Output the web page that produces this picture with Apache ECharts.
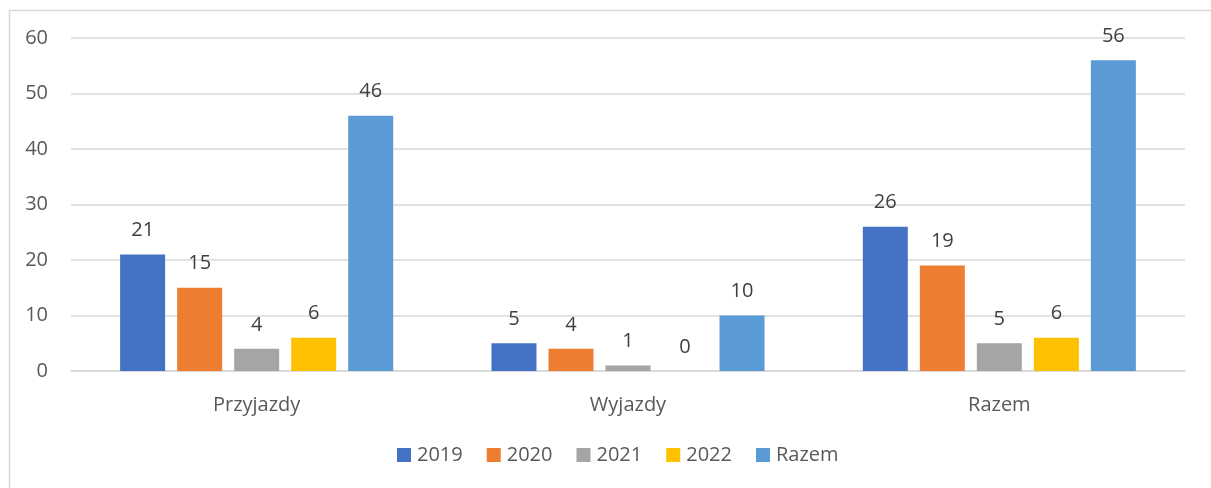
<!DOCTYPE html>
<html><head><meta charset="utf-8">
<script src="https://cdn.jsdelivr.net/npm/echarts@6/dist/echarts.min.js"></script>
<style>html,body{margin:0;padding:0;background:#fff}#c{width:1211px;height:488px}</style>
</head><body><div id="c"></div>
<script>
const categories = ['Przyjazdy', 'Wyjazdy', 'Razem'];
const seriesNames = ['2019', '2020', '2021', '2022', 'Razem'];
const v2019 = [21, 5, 26];
const v2020 = [15, 4, 19];
const v2021 = [4, 1, 5];
const v2022 = [6, 0, 6];
const vRazem = [46, 10, 56];
const yTicks = [0, 10, 20, 30, 40, 50, 60];

const colors = ['#4472C4', '#ED7D31', '#A5A5A5', '#FFC000', '#5B9BD5'];
const allValues = [v2019, v2020, v2021, v2022, vRazem];
const font = 'Open Sans';

const chart = echarts.init(document.getElementById('c'));
chart.setOption({
  animation: false,
  color: colors,
  textStyle: { fontFamily: font },
  graphic: [{
    type: 'rect', left: 7, top: 8, shape: { width: 1220, height: 500 },
    style: { fill: 'none', stroke: '#d9d9d9', lineWidth: 1.5 }, z: -1
  }],
  grid: { left: 71, right: 26, top: 38, bottom: 117, containLabel: false },
  legend: {
    bottom: 18, left: 392, itemWidth: 14, itemHeight: 14, itemGap: 24,
    icon: 'rect',
    textStyle: { fontSize: 20, color: '#595959', fontFamily: font, padding: [0, 0, 0, 1] },
    data: seriesNames
  },
  xAxis: {
    type: 'category', data: categories,
    axisLine: { lineStyle: { color: '#d9d9d9', width: 1.5 } },
    axisTick: { show: false },
    axisLabel: { fontSize: 20, color: '#595959', margin: 24, fontFamily: font }
  },
  yAxis: {
    type: 'value', min: yTicks[0], max: yTicks[yTicks.length - 1], interval: 10,
    axisLine: { show: false }, axisTick: { show: false },
    splitLine: { lineStyle: { color: '#d9d9d9', width: 1.5 } },
    axisLabel: { fontSize: 20, color: '#595959', margin: 23, fontFamily: font }
  },
  series: seriesNames.map((n, i) => ({
    name: n, type: 'bar', data: allValues[i],
    barWidth: 45, barGap: '26.7%',
    itemStyle: { color: colors[i] },
    label: { show: true, position: 'top', distance: 14, fontSize: 20, color: '#404040', fontFamily: font }
  }))
});
</script></body></html>
